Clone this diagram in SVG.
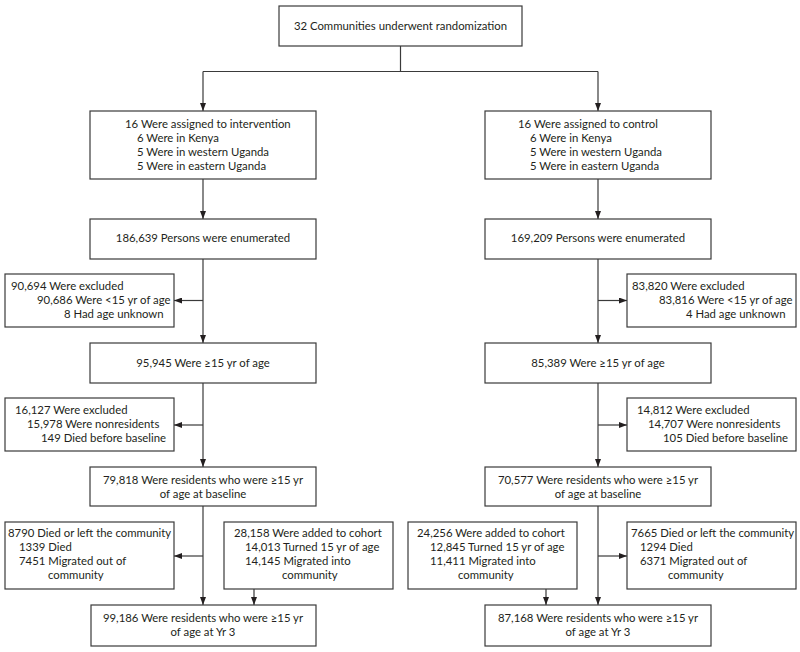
<svg xmlns="http://www.w3.org/2000/svg" width="800" height="652" viewBox="0 0 800 652">
<style>
rect.b{fill:#fff;stroke:#3a3a3a;stroke-width:1.2}
text{font-family:Lato,"Liberation Sans",sans-serif;font-size:11.35px;fill:#231f20}
.c{text-anchor:middle}
.e{fill:none;stroke:#3a3a3a;stroke-width:1.2}
</style>
<defs>
<marker id="ah" markerWidth="8" markerHeight="6" refX="8" refY="3" orient="auto" markerUnits="userSpaceOnUse">
<path d="M0,0 L8,3 L0,6 z" fill="#231f20"/>
</marker>
</defs>
<rect width="800" height="652" fill="#fff"/>
<g id="connectors">
<path class="e" d="M400.5,46 V71.5"/>
<path class="e" d="M203,71.5 H598"/>
<path class="e" d="M203,71.5 V111" marker-end="url(#ah)"/>
<path class="e" d="M598,71.5 V111" marker-end="url(#ah)"/>
<path class="e" d="M203,179 V219" marker-end="url(#ah)"/>
<path class="e" d="M598,179 V219" marker-end="url(#ah)"/>
<path class="e" d="M203,259 V343" marker-end="url(#ah)"/>
<path class="e" d="M598,259 V343" marker-end="url(#ah)"/>
<path class="e" d="M203,300.5 H174" marker-end="url(#ah)"/>
<path class="e" d="M598,300.5 H627" marker-end="url(#ah)"/>
<path class="e" d="M203,383 V467" marker-end="url(#ah)"/>
<path class="e" d="M598,383 V467" marker-end="url(#ah)"/>
<path class="e" d="M203,425 H174" marker-end="url(#ah)"/>
<path class="e" d="M598,425 H627" marker-end="url(#ah)"/>
<path class="e" d="M203,506 V605" marker-end="url(#ah)"/>
<path class="e" d="M598,506 V605" marker-end="url(#ah)"/>
<path class="e" d="M203,556 H174" marker-end="url(#ah)"/>
<path class="e" d="M598,556 H627" marker-end="url(#ah)"/>
<path class="e" d="M254,589 V605" marker-end="url(#ah)"/>
<path class="e" d="M546,589 V605" marker-end="url(#ah)"/>
</g>
<g id="randomization">
<rect class="b" x="279" y="6" width="243" height="40"/>
<text class="c" x="400.5" y="30">32 Communities underwent randomization</text>
</g>
<g id="intervention">
<rect class="b" x="90" y="111" width="226" height="68"/>
<text x="125" y="128">16 Were assigned to intervention</text>
<text x="137" y="142">6 Were in Kenya</text>
<text x="137" y="156">5 Were in western Uganda</text>
<text x="137" y="170">5 Were in eastern Uganda</text>
</g>
<g id="control">
<rect class="b" x="485" y="111" width="226" height="68"/>
<text x="518" y="128">16 Were assigned to control</text>
<text x="530" y="142">6 Were in Kenya</text>
<text x="530" y="156">5 Were in western Uganda</text>
<text x="530" y="170">5 Were in eastern Uganda</text>
</g>
<g id="enum-left">
<rect class="b" x="90" y="219" width="226" height="40"/>
<text class="c" x="203" y="242">186,639 Persons were enumerated</text>
</g>
<g id="enum-right">
<rect class="b" x="485" y="219" width="226" height="40"/>
<text class="c" x="598" y="242">169,209 Persons were enumerated</text>
</g>
<g id="excl1-left">
<rect class="b" x="5" y="274" width="169" height="53"/>
<text x="11" y="290">90,694 Were excluded</text>
<text x="37" y="304">90,686 Were &lt;15 yr of age</text>
<text x="64" y="318">8 Had age unknown</text>
</g>
<g id="excl1-right">
<rect class="b" x="627" y="274" width="169" height="53"/>
<text x="632" y="290">83,820 Were excluded</text>
<text x="659" y="304">83,816 Were &lt;15 yr of age</text>
<text x="686" y="318">4 Had age unknown</text>
</g>
<g id="age-left">
<rect class="b" x="90" y="343" width="226" height="40"/>
<text class="c" x="203" y="367">95,945 Were ≥15 yr of age</text>
</g>
<g id="age-right">
<rect class="b" x="485" y="343" width="226" height="40"/>
<text class="c" x="598" y="367">85,389 Were ≥15 yr of age</text>
</g>
<g id="excl2-left">
<rect class="b" x="5" y="398" width="169" height="53"/>
<text x="15" y="414">16,127 Were excluded</text>
<text x="27" y="428">15,978 Were nonresidents</text>
<text x="41" y="442">149 Died before baseline</text>
</g>
<g id="excl2-right">
<rect class="b" x="627" y="398" width="169" height="53"/>
<text x="637" y="414">14,812 Were excluded</text>
<text x="648" y="428">14,707 Were nonresidents</text>
<text x="663" y="442">105 Died before baseline</text>
</g>
<g id="baseline-left">
<rect class="b" x="90" y="467" width="226" height="39"/>
<text class="c" x="203" y="484">79,818 Were residents who were ≥15 yr</text>
<text class="c" x="203" y="498">of age at baseline</text>
</g>
<g id="baseline-right">
<rect class="b" x="485" y="467" width="226" height="39"/>
<text class="c" x="598" y="484">70,577 Were residents who were ≥15 yr</text>
<text class="c" x="598" y="498">of age at baseline</text>
</g>
<g id="left-left">
<rect class="b" x="5" y="522" width="169" height="67"/>
<text x="8" y="537">8790 Died or left the community</text>
<text x="19" y="551">1339 Died</text>
<text x="19" y="565">7451 Migrated out of</text>
<text x="48" y="579">community</text>
</g>
<g id="added-left">
<rect class="b" x="224" y="522" width="169" height="67"/>
<text x="234" y="537">28,158 Were added to cohort</text>
<text x="245" y="551">14,013 Turned 15 yr of age</text>
<text x="245" y="565">14,145 Migrated into</text>
<text x="282" y="579">community</text>
</g>
<g id="added-right">
<rect class="b" x="408" y="522" width="169" height="67"/>
<text x="417" y="537">24,256 Were added to cohort</text>
<text x="430" y="551">12,845 Turned 15 yr of age</text>
<text x="430" y="565">11,411 Migrated into</text>
<text x="458" y="579">community</text>
</g>
<g id="left-right">
<rect class="b" x="627" y="522" width="169" height="67"/>
<text x="631" y="537">7665 Died or left the community</text>
<text x="640" y="551">1294 Died</text>
<text x="640" y="565">6371 Migrated out of</text>
<text x="668" y="579">community</text>
</g>
<g id="yr3-left">
<rect class="b" x="91" y="605" width="225" height="41"/>
<text class="c" x="203" y="622">99,186 Were residents who were ≥15 yr</text>
<text class="c" x="203" y="636">of age at Yr 3</text>
</g>
<g id="yr3-right">
<rect class="b" x="485" y="605" width="226" height="41"/>
<text class="c" x="598" y="622">87,168 Were residents who were ≥15 yr</text>
<text class="c" x="598" y="636">of age at Yr 3</text>
</g>
</svg>
